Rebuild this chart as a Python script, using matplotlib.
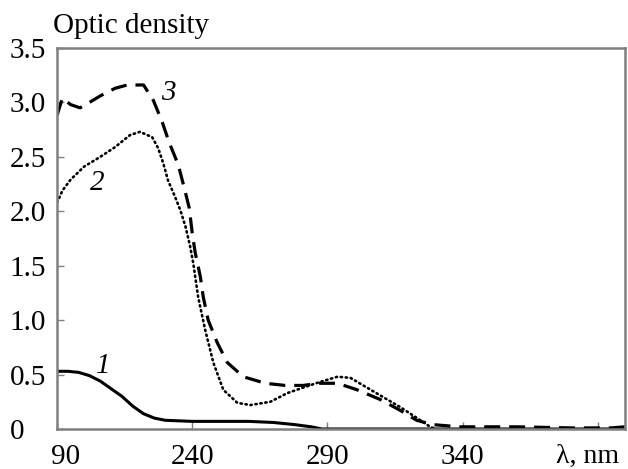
import matplotlib
matplotlib.use('Agg')
import matplotlib.pyplot as plt
import matplotlib.transforms as mtransforms

plt.rcParams['font.family'] = ['Liberation Serif', 'DejaVu Serif']

# curve 1 (solid)
x1 = [190, 194, 198, 202, 206, 210, 214, 218, 222, 226, 230, 240, 250, 261, 270, 278, 284, 288, 300, 340, 400]
y1 = [0.53, 0.53, 0.52, 0.49, 0.44, 0.37, 0.30, 0.21, 0.14, 0.10, 0.08, 0.07, 0.07, 0.07, 0.06, 0.04, 0.02, 0.0, 0.0, 0.0, 0.0]

# curve 2 (dotted)
x2 = [190, 192, 195, 200, 206, 211.5, 217, 220.7, 225.2, 227.4, 229.3, 231.1, 233.7, 235.6, 237.5, 239.2, 240.4,
      242.2, 244.8, 247.8, 251.5, 256.7, 261.5, 268.9, 275.2, 281, 287, 293.7, 298.5, 306, 317, 324.4, 328, 330]
y2 = [2.08, 2.19, 2.29, 2.41, 2.50, 2.59, 2.70, 2.73, 2.68, 2.58, 2.44, 2.28, 2.13, 2.01, 1.86, 1.68, 1.52,
      1.21, 0.91, 0.61, 0.36, 0.24, 0.22, 0.25, 0.33, 0.38, 0.43, 0.48, 0.47, 0.36, 0.20, 0.08, 0.02, 0.0]

# curve 3 (dashed)
x3 = [190, 192, 195, 198.5, 202, 206, 211.5, 216, 222, 225.6, 228.9, 231.5, 234.8, 237.0, 238.9, 240.0, 241.1,
      243.0, 244.1, 245.9, 249.3, 253.0, 258.9, 267.0, 274.4, 281, 287, 293.7, 301, 309.6, 317, 323, 329, 339,
      360, 380, 395, 400]
y3 = [2.88, 3.04, 2.98, 2.95, 3.00, 3.06, 3.13, 3.16, 3.16, 3.02, 2.82, 2.63, 2.43, 2.22, 2.03, 1.80, 1.62,
      1.40, 1.21, 1.00, 0.79, 0.61, 0.48, 0.42, 0.40, 0.40, 0.42, 0.42, 0.36, 0.27, 0.17, 0.08, 0.04, 0.02,
      0.02, 0.01, 0.01, 0.02]

x_ticks = [190, 240, 290, 340, 390]
x_labels = ['90', '240', '290', '340', 'λ, nm']
y_ticks = [0, 0.5, 1.0, 1.5, 2.0, 2.5, 3.0, 3.5]
y_labels = ['0', '0.5', '1.0', '1.5', '2.0', '2.5', '3.0', '3.5']

fig = plt.figure(figsize=(6.28, 4.69), dpi=100)
ax = fig.add_axes([0.0908, 0.0853, 0.9042, 0.8124])

ax.plot(x1, y1, color='black', lw=2.2, ls='-')
ax.plot(x2, y2, color='black', lw=1.9, ls=(0, (0.5, 1.4)), dash_capstyle='round')
ax.plot(x3, y3, color='black', lw=2.3, ls=(0, (5, 2.8)))

ax.set_xlim(190, 400)
ax.set_ylim(0, 3.5)
ax.set_xticks(x_ticks)
ax.set_xticklabels(x_labels)
ax.set_yticks(y_ticks)
ax.set_yticklabels(y_labels, ha='left')
ax.tick_params(direction='in', length=5, width=1, color='#808080', labelsize=21)
ax.tick_params(axis='x', pad=11)
ax.tick_params(axis='y', pad=34)
for s in ax.spines.values():
    s.set_color('#808080')
    s.set_linewidth(1.8)

# the first x label is clipped in the original ("190" -> "90"), shift it right a bit;
# the last one sits a little left of its tick
xlabs = ax.get_xticklabels()
xlabs[0].set_transform(xlabs[0].get_transform() + mtransforms.ScaledTranslation(9 / 100, 0, fig.dpi_scale_trans))
xlabs[-1].set_transform(xlabs[-1].get_transform() + mtransforms.ScaledTranslation(-10 / 100, 0, fig.dpi_scale_trans))
xlabs[-1].set_fontsize(20)

fig.text(0.0844, 0.93, 'Optic density', fontsize=21, ha='left', va='baseline')

ax.text(231.1, 3.09, '3', fontsize=21, style='italic', ha='center', va='center')
ax.text(204.8, 2.26, '2', fontsize=21, style='italic', ha='center', va='center')
ax.text(207, 0.58, '1', fontsize=21, style='italic', ha='center', va='center')

fig.savefig('out.png', dpi=100)
